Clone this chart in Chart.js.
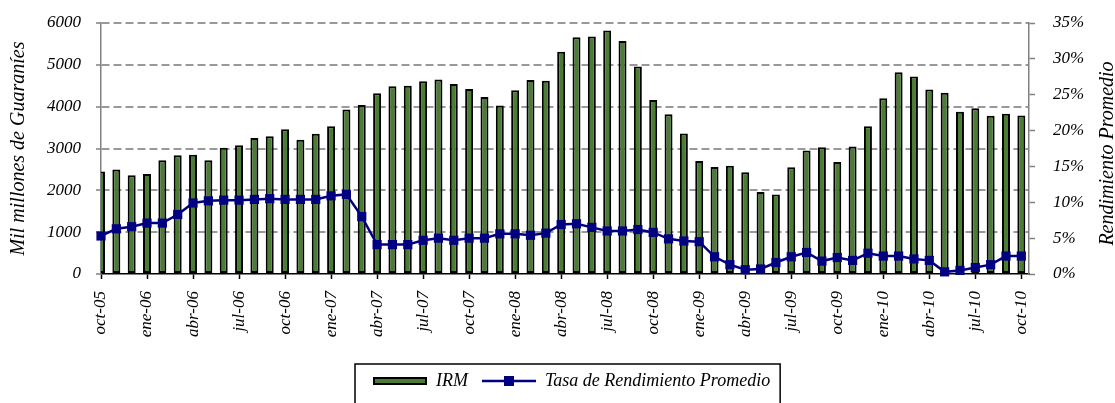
<!DOCTYPE html>
<html>
<head>
<meta charset="utf-8">
<script src="https://cdn.jsdelivr.net/npm/chart.js@4"></script>
<style>
  html, body { margin: 0; padding: 0; background: #fff; }
  #wrap { width: 1115px; height: 403px; }
</style>
</head>
<body>
<div id="wrap"><canvas id="irmChart" width="1115" height="403"></canvas></div>
<script>
const months = [
  'oct-05', 'nov-05', 'dic-05',
  'ene-06', 'feb-06', 'mar-06', 'abr-06', 'may-06', 'jun-06', 'jul-06', 'ago-06', 'sep-06', 'oct-06', 'nov-06', 'dic-06',
  'ene-07', 'feb-07', 'mar-07', 'abr-07', 'may-07', 'jun-07', 'jul-07', 'ago-07', 'sep-07', 'oct-07', 'nov-07', 'dic-07',
  'ene-08', 'feb-08', 'mar-08', 'abr-08', 'may-08', 'jun-08', 'jul-08', 'ago-08', 'sep-08', 'oct-08', 'nov-08', 'dic-08',
  'ene-09', 'feb-09', 'mar-09', 'abr-09', 'may-09', 'jun-09', 'jul-09', 'ago-09', 'sep-09', 'oct-09', 'nov-09', 'dic-09',
  'ene-10', 'feb-10', 'mar-10', 'abr-10', 'may-10', 'jun-10', 'jul-10', 'ago-10', 'sep-10', 'oct-10'
];

// IRM, mil millones de guaranies
const irm = [
  2450, 2500, 2360,
  2390, 2720, 2840, 2850, 2720, 3020, 3080, 3250, 3290, 3460, 3210, 3350,
  3530, 3930, 4040, 4320, 4490, 4500, 4610, 4650, 4540, 4420, 4230, 4030,
  4390, 4640, 4620, 5310, 5660, 5680, 5820, 5570, 4960, 4160, 3820, 3360,
  2700, 2560, 2590, 2430, 1960, 1900, 2550, 2950, 3030, 2680, 3050, 3530,
  4200, 4820, 4720, 4410, 4330, 3880, 3960, 3780, 3830, 3790
];

// tasa de rendimiento promedio, %
const tasa = [
  5.3, 6.3, 6.6,
  7.1, 7.1, 8.3, 9.9, 10.2, 10.3, 10.3, 10.4, 10.5, 10.4, 10.4, 10.4,
  10.9, 11.1, 8.0, 4.1, 4.1, 4.1, 4.7, 5.0, 4.7, 5.0, 5.0, 5.6,
  5.6, 5.4, 5.7, 6.9, 7.0, 6.5, 6.0, 6.0, 6.2, 5.8, 4.9, 4.6,
  4.5, 2.4, 1.3, 0.6, 0.7, 1.6, 2.4, 3.0, 1.8, 2.3, 1.9, 2.9,
  2.5, 2.5, 2.1, 1.9, 0.3, 0.5, 0.9, 1.3, 2.5, 2.5
];

const tickEvery = 3; // one label per quarter
const FONT = "'Liberation Serif', 'Times New Roman', serif";
const GREEN = '#4a7c34';
const NAVY = '#000080';

function barSample() {
  const c = document.createElement('canvas');
  c.width = 54; c.height = 8;
  const g = c.getContext('2d');
  g.fillStyle = '#000';
  g.fillRect(0, 0, 54, 8);
  g.fillStyle = GREEN;
  g.fillRect(2, 2, 50, 4);
  return c;
}

function lineSample() {
  const c = document.createElement('canvas');
  c.width = 54; c.height = 10;
  const g = c.getContext('2d');
  g.strokeStyle = NAVY;
  g.lineWidth = 2.5;
  g.beginPath(); g.moveTo(0, 5); g.lineTo(54, 5); g.stroke();
  g.fillStyle = NAVY;
  g.fillRect(22, 0, 10, 10);
  return c;
}

// shifts the legend a bit right, frames it, and writes the right axis title bottom-to-top
const extras = {
  id: 'extras',
  afterLayout(chart) {
    const L = chart.legend;
    const pad = L.options.labels.padding;
    const x0 = (L.left + pad + L.right - L.lineWidths[0]) / 2;
    const dx = 373 - x0;
    L.left += dx;
    L.right += dx;
  },
  afterDraw(chart) {
    const ctx = chart.ctx;
    const boxes = chart.legend.legendHitBoxes;
    const first = boxes[0], last = boxes[boxes.length - 1];
    const cy = first.top + first.height / 2;
    const x1 = first.left - 18;
    const x2 = last.left + last.width + 10;
    ctx.save();
    ctx.strokeStyle = '#000';
    ctx.lineWidth = 1.5;
    ctx.strokeRect(x1, cy - 17, x2 - x1, 60);

    const area = chart.chartArea;
    ctx.translate(1108, (area.top + area.bottom) / 2 + 5);
    ctx.rotate(-Math.PI / 2);
    ctx.fillStyle = '#000';
    ctx.font = 'italic 20px ' + FONT;
    ctx.textAlign = 'center';
    ctx.textBaseline = 'middle';
    ctx.fillText('Rendimiento Promedio', 0, 0);
    ctx.restore();
  }
};

const tickFont = { family: FONT, style: 'italic', size: 17 };

// fixed axis widths, and no extra room asked for above/below the plot
function fitY(width) {
  return (scale) => {
    scale.width = width;
    scale.paddingTop = 0;
    scale.paddingBottom = 0;
  };
}

const chart = new Chart(document.getElementById('irmChart'), {
  type: 'bar',
  data: {
    datasets: [{
      type: 'bar',
      label: 'IRM',
      data: irm.map((v, i) => ({ x: i, y: v })),
      yAxisID: 'y',
      backgroundColor: GREEN,
      borderColor: '#000',
      borderWidth: 2,
      borderSkipped: false,
      barPercentage: 0.52,
      categoryPercentage: 1,
      clip: 0,
      order: 2
    }, {
      type: 'line',
      label: 'Tasa de Rendimiento Promedio',
      data: tasa.map((v, i) => ({ x: i, y: v })),
      yAxisID: 'y1',
      borderColor: NAVY,
      borderWidth: 2.5,
      pointStyle: 'rect',
      pointRadius: 6.5,
      pointBackgroundColor: NAVY,
      pointBorderColor: NAVY,
      pointBorderWidth: 0,
      tension: 0,
      clip: false,
      order: 1
    }]
  },
  options: {
    responsive: false,
    animation: false,
    devicePixelRatio: 1,
    layout: { padding: { top: 23, left: 0, right: 0, bottom: 3 } },
    plugins: {
      tooltip: { enabled: false },
      legend: {
        position: 'bottom',
        labels: {
          usePointStyle: true,
          pointStyleWidth: 54,
          padding: 14,
          color: '#000',
          font: { family: FONT, style: 'italic', size: 18 },
          generateLabels: (c) => [
            { text: c.data.datasets[0].label, pointStyle: barSample(), fillStyle: GREEN, strokeStyle: '#000', lineWidth: 0, hidden: false, datasetIndex: 0 },
            { text: c.data.datasets[1].label, pointStyle: lineSample(), fillStyle: NAVY, strokeStyle: NAVY, lineWidth: 0, hidden: false, datasetIndex: 1 }
          ]
        }
      }
    },
    scales: {
      x: {
        type: 'linear',
        min: 0,
        max: months.length - 0.5,
        offset: false,
        afterBuildTicks: (scale) => {
          scale.ticks = months.map((m, i) => i).filter(i => i % tickEvery === 0).map(v => ({ value: v }));
        },
        afterFit: (scale) => { scale.height = 84; },
        grid: { drawOnChartArea: false, offset: false, tickLength: 5, tickColor: '#000', tickWidth: 1.5 },
        border: { color: '#000', width: 1.5 },
        ticks: {
          autoSkip: false,
          maxRotation: 90,
          minRotation: 90,
          padding: 12,
          color: '#000',
          font: tickFont,
          callback: (v) => months[v]
        }
      },
      y: {
        position: 'left',
        min: 0,
        max: 6000,
        afterFit: fitY(101),
        ticks: { stepSize: 1000, padding: 15, color: '#000', font: tickFont, callback: (v) => String(v) },
        grid: {
          color: (ctx) => ctx.tick && ctx.tick.value === 0 ? 'rgba(0,0,0,0)' : '#999',
          lineWidth: 2,
          tickLength: 5,
          tickColor: '#808080',
          tickWidth: 1.5
        },
        border: { color: '#808080', width: 1.5, dash: [8, 4] },
        title: {
          display: true,
          text: 'Mil millones de Guaraníes',
          color: '#000',
          font: { family: FONT, style: 'italic', size: 20, lineHeight: 1 },
          padding: { top: 9, bottom: 0 }
        }
      },
      y1: {
        position: 'right',
        min: 0,
        max: 35,
        afterFit: fitY(86),
        ticks: { stepSize: 5, padding: 18, color: '#000', font: tickFont, callback: (v) => v + '%' },
        grid: { drawOnChartArea: false, tickLength: 6, tickColor: '#808080', tickWidth: 1.5 },
        border: { color: '#808080', width: 1.5 }
      }
    }
  },
  plugins: [extras]
});
</script>
</body>
</html>
